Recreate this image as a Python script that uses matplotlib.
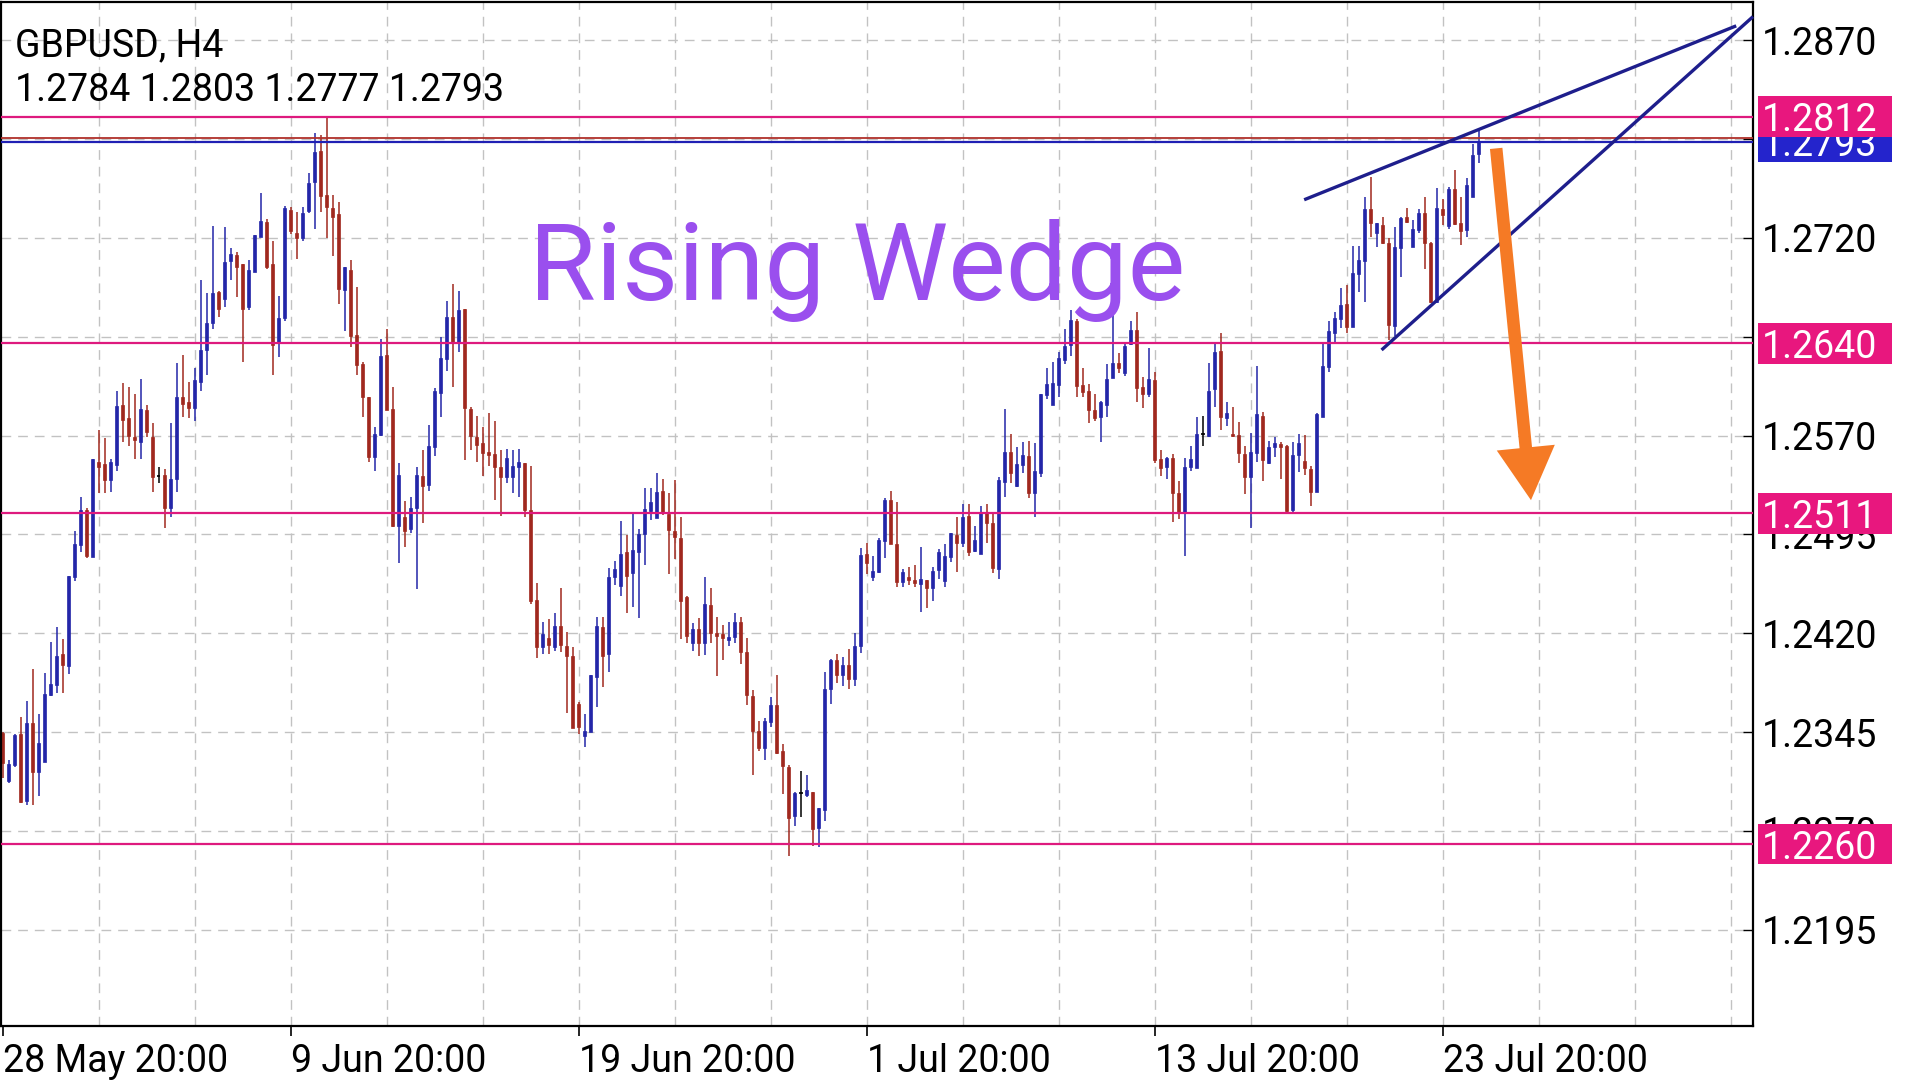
import matplotlib
matplotlib.use('Agg')
import matplotlib.pyplot as plt
import matplotlib.transforms as mtransforms
from matplotlib.patches import Rectangle

# GBPUSD H4 candles, bar 0 = 28 May 20:00
opens = [
    1.2344, 1.23081, 1.23200, 1.23435, 1.22929, 1.23521, 1.23149, 1.23225, 1.23731, 1.23807,
    1.24042, 1.23954, 1.24624, 1.24870, 1.25135, 1.24781, 1.25500, 1.25485, 1.25363, 1.25477,
    1.25935, 1.25836, 1.25692, 1.25654, 1.25894, 1.25692, 1.25393, 1.25398, 1.25148, 1.25368,
    1.25991, 1.25953, 1.25907, 1.26110, 1.26350, 1.26552, 1.26793, 1.26737, 1.27028, 1.27071,
    1.27003, 1.26679, 1.26945, 1.27205, 1.27324, 1.27003, 1.26406, 1.26590, 1.27413, 1.27235,
    1.27198, 1.27408, 1.27628, 1.27863, 1.27527, 1.27425, 1.27382, 1.26806, 1.26957, 1.26464,
    1.26244, 1.25991, 1.25541, 1.25705, 1.26312, 1.25900, 1.25014, 1.25080, 1.24989, 1.25148,
    1.25393, 1.25325, 1.25616, 1.26026, 1.26284, 1.26603, 1.26406, 1.26659, 1.25900, 1.25687,
    1.25642, 1.25579, 1.25561, 1.25465, 1.25389, 1.25384, 1.25460, 1.25495, 1.25136, 1.24453,
    1.24093, 1.24162, 1.24098, 1.24255, 1.24103, 1.24027, 1.23663, 1.23423, 1.23453, 1.23871,
    1.24250, 1.24043, 1.24630, 1.24559, 1.24817, 1.24655, 1.24819, 1.24954, 1.25131, 1.25073,
    1.25282, 1.25105, 1.24979, 1.24921, 1.24473, 1.24124, 1.24230, 1.24124, 1.24415, 1.24205,
    1.24195, 1.24149, 1.24169, 1.24283, 1.24055, 1.23724, 1.23461, 1.23327, 1.23529, 1.23656,
    1.23309, 1.23188, 1.22813, 1.22985, 1.22972, 1.22998, 1.22719, 1.22858, 1.23775, 1.2400,
    1.2388, 1.2396, 1.2385, 1.2410, 1.24802, 1.24630, 1.24668, 1.24903, 1.25212, 1.24878,
    1.24592, 1.24625, 1.24605, 1.24572, 1.24605, 1.24541, 1.24680, 1.24599, 1.24782, 1.24946,
    1.24883, 1.25090, 1.24827, 1.24802, 1.25111, 1.25040, 1.24685, 1.25351, 1.25579, 1.25318,
    1.25477, 1.25546, 1.25267, 1.25419, 1.26009, 1.25933, 1.26084, 1.26274, 1.26388, 1.26573,
    1.26084, 1.26041, 1.25895, 1.25839, 1.25933, 1.26140, 1.26249, 1.26178, 1.26396, 1.26502,
    1.26072, 1.26016, 1.26122, 1.25520, 1.25460, 1.25528, 1.25262, 1.25115, 1.25465, 1.25452,
    1.25710, 1.25697, 1.26051, 1.26345, 1.25831, 1.25713, 1.25705, 1.25561, 1.25389, 1.25571,
    1.25849, 1.25495, 1.25611, 1.25637, 1.25621, 1.25136, 1.25553, 1.25510, 1.25444, 1.25275,
    1.25844, 1.26224, 1.26482, 1.26583, 1.26699, 1.26527, 1.26927, 1.27028, 1.27418, 1.27235,
    1.27299, 1.27165, 1.26532, 1.27122, 1.27357, 1.27134, 1.27261, 1.27387, 1.27165, 1.26717,
    1.27418, 1.27291, 1.27570, 1.27311, 1.27261, 1.27514, 1.2784]
highs = [
    1.2345, 1.23238, 1.23436, 1.23567, 1.23688, 1.23929, 1.23587, 1.23901, 1.24136, 1.24250,
    1.24156, 1.24634, 1.24978, 1.25237, 1.25148, 1.25520, 1.25743, 1.25679, 1.25520, 1.26041,
    1.26102, 1.26066, 1.26016, 1.26127, 1.25932, 1.25798, 1.25459, 1.25449, 1.25798, 1.26249,
    1.26312, 1.26110, 1.26211, 1.26881, 1.26785, 1.27291, 1.26800, 1.27286, 1.27127, 1.27091,
    1.27003, 1.27033, 1.27223, 1.27544, 1.27342, 1.27177, 1.26760, 1.27443, 1.27433, 1.27395,
    1.27438, 1.27691, 1.27995, 1.27982, 1.28116, 1.27527, 1.27476, 1.26983, 1.27033, 1.26826,
    1.26262, 1.25996, 1.25768, 1.26431, 1.26507, 1.26072, 1.25495, 1.25207, 1.25232, 1.25459,
    1.25591, 1.25781, 1.26059, 1.26451, 1.26725, 1.26851, 1.26798, 1.26664, 1.25920, 1.25849,
    1.25768, 1.25874, 1.25814, 1.25591, 1.25600, 1.25591, 1.25600, 1.25495, 1.25470, 1.24579,
    1.24283, 1.24306, 1.24351, 1.24546, 1.24212, 1.24093, 1.23681, 1.23587, 1.23881, 1.24326,
    1.24326, 1.24693, 1.24751, 1.25055, 1.24946, 1.25110, 1.24989, 1.25305, 1.25300, 1.25419,
    1.25368, 1.25262, 1.25363, 1.25080, 1.24483, 1.24276, 1.24313, 1.24625, 1.24541, 1.24326,
    1.24263, 1.24283, 1.24351, 1.24326, 1.24167, 1.23770, 1.23537, 1.23554, 1.23719, 1.23883,
    1.23360, 1.23200, 1.22998, 1.23157, 1.23124, 1.22998, 1.22871, 1.23906, 1.24002, 1.2404,
    1.2402, 1.2408, 1.2420, 1.24845, 1.24883, 1.24787, 1.24921, 1.25224, 1.25280, 1.25194,
    1.24685, 1.24701, 1.24718, 1.24857, 1.24605, 1.24706, 1.24837, 1.24878, 1.24964, 1.25085,
    1.25181, 1.25181, 1.25015, 1.25166, 1.25181, 1.25110, 1.25389, 1.25900, 1.25713, 1.25616,
    1.25649, 1.25659, 1.25642, 1.26016, 1.26211, 1.26261, 1.26337, 1.26507, 1.26654, 1.26583,
    1.26211, 1.26092, 1.26016, 1.25966, 1.26244, 1.26623, 1.26330, 1.26401, 1.26573, 1.26641,
    1.26148, 1.26363, 1.26186, 1.25591, 1.25536, 1.25561, 1.25358, 1.25528, 1.25621, 1.25839,
    1.25849, 1.26254, 1.26401, 1.26482, 1.25958, 1.25915, 1.25806, 1.25621, 1.25723, 1.26229,
    1.25882, 1.25662, 1.25692, 1.25654, 1.25629, 1.25654, 1.25713, 1.25705, 1.25470, 1.25874,
    1.26406, 1.26573, 1.26641, 1.26818, 1.26844, 1.27140, 1.27140, 1.27509, 1.27666, 1.27316,
    1.27357, 1.27198, 1.27286, 1.27357, 1.27425, 1.27337, 1.27418, 1.27509, 1.27172, 1.27577,
    1.27494, 1.27585, 1.27716, 1.27509, 1.27653, 1.27914, 1.2803]
lows = [
    1.23099, 1.23066, 1.23187, 1.22909, 1.22896, 1.22896, 1.22965, 1.23225, 1.23724, 1.23749,
    1.23744, 1.23888, 1.24599, 1.24819, 1.24769, 1.24781, 1.25262, 1.25267, 1.25275, 1.25434,
    1.25654, 1.25621, 1.25520, 1.25520, 1.25692, 1.25275, 1.25338, 1.24996, 1.25080, 1.25275,
    1.25839, 1.25831, 1.25814, 1.26041, 1.26160, 1.26507, 1.26598, 1.26674, 1.26881, 1.26750,
    1.26261, 1.26654, 1.26945, 1.27205, 1.26962, 1.26160, 1.26294, 1.26573, 1.27230, 1.27041,
    1.27180, 1.27387, 1.27266, 1.27400, 1.27198, 1.27066, 1.26699, 1.26497, 1.26370, 1.26160,
    1.25844, 1.25503, 1.25434, 1.25697, 1.25895, 1.25009, 1.24731, 1.24852, 1.24959, 1.24534,
    1.25040, 1.25282, 1.25546, 1.25844, 1.26193, 1.26072, 1.26338, 1.25515, 1.25591, 1.25503,
    1.25394, 1.25470, 1.25212, 1.25090, 1.25343, 1.25267, 1.25237, 1.25085, 1.24422, 1.24010,
    1.24043, 1.24043, 1.24068, 1.24060, 1.23597, 1.23478, 1.23435, 1.23339, 1.23453, 1.23638,
    1.23790, 1.23909, 1.24566, 1.24483, 1.24351, 1.24397, 1.24313, 1.24718, 1.25060, 1.25073,
    1.25098, 1.24650, 1.24761, 1.24154, 1.24129, 1.24068, 1.24028, 1.24035, 1.24129, 1.23876,
    1.23997, 1.24104, 1.24129, 1.23967, 1.23656, 1.23124, 1.23309, 1.23238, 1.23486, 1.23284,
    1.22980, 1.22510, 1.22737, 1.22808, 1.22955, 1.22586, 1.22575, 1.22778, 1.23663, 1.2382,
    1.2380, 1.2378, 1.2380, 1.2405, 1.24650, 1.24599, 1.24660, 1.24769, 1.24875, 1.24549,
    1.24554, 1.24567, 1.24554, 1.24364, 1.24389, 1.24448, 1.24610, 1.24554, 1.24744, 1.24668,
    1.24852, 1.24787, 1.24820, 1.24802, 1.24888, 1.24660, 1.24610, 1.25232, 1.25343, 1.25313,
    1.25419, 1.25224, 1.25080, 1.25389, 1.25976, 1.25933, 1.25996, 1.26244, 1.26305, 1.25991,
    1.25996, 1.25798, 1.25814, 1.25654, 1.25839, 1.26135, 1.26178, 1.26153, 1.26388, 1.25958,
    1.25907, 1.25996, 1.25490, 1.25394, 1.25368, 1.25047, 1.25065, 1.24787, 1.25434, 1.25452,
    1.25621, 1.25692, 1.25915, 1.25743, 1.25773, 1.25692, 1.25490, 1.25257, 1.24996, 1.25502,
    1.25358, 1.25485, 1.25536, 1.25368, 1.25115, 1.25123, 1.25427, 1.25401, 1.25166, 1.25275,
    1.25844, 1.26186, 1.26413, 1.26514, 1.26482, 1.26527, 1.26793, 1.26717, 1.27210, 1.27129,
    1.27155, 1.26426, 1.26456, 1.26907, 1.27317, 1.27129, 1.27241, 1.26962, 1.26709, 1.26709,
    1.27299, 1.27266, 1.27299, 1.27147, 1.27205, 1.27509, 1.2777]
closes = [
    1.23213, 1.23205, 1.23428, 1.22919, 1.23521, 1.23149, 1.23364, 1.23739, 1.23815, 1.24027,
    1.23959, 1.24634, 1.24877, 1.25135, 1.24786, 1.25520, 1.25464, 1.25363, 1.25502, 1.25925,
    1.25818, 1.25697, 1.25667, 1.25899, 1.25727, 1.25388, 1.25393, 1.25148, 1.25368, 1.25991,
    1.25940, 1.25907, 1.26122, 1.26350, 1.26552, 1.26785, 1.26659, 1.27015, 1.27079, 1.26983,
    1.26661, 1.26957, 1.27223, 1.27332, 1.26983, 1.26388, 1.26590, 1.27425, 1.27256, 1.27198,
    1.27393, 1.27615, 1.27855, 1.27519, 1.27438, 1.27362, 1.26811, 1.26978, 1.26456, 1.26236,
    1.25996, 1.25541, 1.25713, 1.26305, 1.25895, 1.25014, 1.25401, 1.24979, 1.25148, 1.25401,
    1.25318, 1.25621, 1.26039, 1.26292, 1.26603, 1.26406, 1.26654, 1.25907, 1.25697, 1.25629,
    1.25571, 1.25553, 1.25460, 1.25389, 1.25528, 1.25470, 1.25497, 1.25136, 1.24448, 1.24098,
    1.24195, 1.24111, 1.24255, 1.24111, 1.24027, 1.23478, 1.23491, 1.23458, 1.23881, 1.24255,
    1.24027, 1.24625, 1.24685, 1.24802, 1.24635, 1.24832, 1.24954, 1.25141, 1.25199, 1.25275,
    1.25110, 1.24984, 1.24928, 1.24448, 1.24182, 1.24230, 1.24124, 1.24422, 1.24200, 1.24179,
    1.24167, 1.24174, 1.24283, 1.24060, 1.23732, 1.23461, 1.23327, 1.23537, 1.23656, 1.23289,
    1.23193, 1.22796, 1.22985, 1.22985, 1.23011, 1.22712, 1.22871, 1.23775, 1.23997, 1.2388,
    1.2396, 1.2385, 1.2410, 1.24794, 1.24731, 1.24675, 1.24908, 1.25212, 1.24875, 1.24592,
    1.24668, 1.24605, 1.24579, 1.24610, 1.24541, 1.24675, 1.24820, 1.24787, 1.24959, 1.24888,
    1.25085, 1.24820, 1.24908, 1.25116, 1.25040, 1.24693, 1.25363, 1.25579, 1.25414, 1.25485,
    1.25553, 1.25262, 1.25432, 1.26016, 1.26092, 1.26097, 1.26287, 1.26380, 1.26578, 1.26077,
    1.26034, 1.25895, 1.25831, 1.25958, 1.26133, 1.26249, 1.26211, 1.26380, 1.26502, 1.26059,
    1.26016, 1.26127, 1.25515, 1.25452, 1.25528, 1.25262, 1.25115, 1.25460, 1.25520, 1.25713,
    1.25710, 1.26041, 1.26337, 1.25839, 1.25874, 1.25697, 1.25571, 1.25389, 1.25578, 1.25864,
    1.25515, 1.25611, 1.25642, 1.25611, 1.25131, 1.25553, 1.25647, 1.25452, 1.25275, 1.25864,
    1.26229, 1.26497, 1.26590, 1.26692, 1.26527, 1.26937, 1.27033, 1.27418, 1.27311, 1.27311,
    1.27165, 1.26540, 1.27134, 1.27349, 1.27324, 1.27266, 1.27387, 1.27165, 1.26717, 1.27425,
    1.27375, 1.27570, 1.27307, 1.27256, 1.27602, 1.27830, 1.2793]

price_ticks = [1.2870, 1.2795, 1.2720, 1.2645, 1.2570, 1.2495, 1.2420, 1.2345, 1.2270, 1.2195]
level_prices = [1.2812, 1.2640, 1.2511, 1.2260]
bid_price = 1.2793
ask_price = 1.2796
date_ticks = [0, 48, 96, 144, 192, 240]
date_labels = ['28 May 20:00', '9 Jun 20:00', '19 Jun 20:00', '1 Jul 20:00', '13 Jul 20:00', '23 Jul 20:00']
ohlc_header = '1.2784 1.2803 1.2777 1.2793'

# wedge trend lines (bar, price) and the projected move arrow
wedge_upper = [(216.9, 1.2749), (288.9, 1.2881)]
wedge_lower = [(229.8, 1.2635), (291.7, 1.2888)]
arrow_start = (248.9, 1.2788)
arrow_end = (254.7, 1.2521)

BULL = '#2326A8'
BEAR = '#A0281E'
PINK = '#DE1A7E'


def main():
    plt.rcParams['font.family'] = ['Roboto', 'DejaVu Sans']

    fig = plt.figure(figsize=(19.2, 10.8), dpi=100)
    ax = fig.add_axes([1 / 1920, 54 / 1080, 1752 / 1920, 1024 / 1080])

    # dashed grid
    for gx in range(16, 292, 16):
        ax.axvline(gx, color='#C2C2C2', lw=1.0, ls=(0, (7, 5)), zorder=0.5)
    for gy in price_ticks:
        ax.axhline(gy, color='#C2C2C2', lw=1.0, ls=(0, (7, 5)), zorder=0.5)

    # candles
    for i in range(len(closes)):
        o, h, l, c = opens[i], highs[i], lows[i], closes[i]
        if c > o:
            col = BULL
        elif c < o:
            col = BEAR
        else:
            col = 'black'
        ax.vlines(i, l, h, color=col, lw=1.1, zorder=2)
        if c == o:
            ax.hlines(c, i - 0.3, i + 0.3, color=col, lw=1.2, zorder=2)
        else:
            ax.bar(i, abs(c - o), bottom=min(o, c), width=0.5, color=col, edgecolor=col, lw=0.5, zorder=2.1)

    # horizontal levels
    for lv in level_prices:
        ax.axhline(lv, color=PINK, lw=1.6, zorder=3.5)
    ax.axhline(ask_price, color='#B0302A', lw=1.3, zorder=3.4)
    ax.axhline(bid_price, color='#2020B4', lw=1.6, zorder=3.4)

    # wedge
    ax.plot([p[0] for p in wedge_upper], [p[1] for p in wedge_upper], color='#1E1E8C', lw=2.4, zorder=4,
            solid_capstyle='butt', clip_on=False)
    ax.plot([p[0] for p in wedge_lower], [p[1] for p in wedge_lower], color='#1E1E8C', lw=2.4, zorder=4,
            solid_capstyle='butt', clip_on=False)

    ax.annotate('', xy=arrow_end, xytext=arrow_start,
                arrowprops=dict(arrowstyle='simple,head_length=3.8,head_width=4.2,tail_width=0.9',
                                mutation_scale=10, fc='#F57A25', ec='none', shrinkA=0, shrinkB=0),
                zorder=5)

    ax.set_xlim(-0.28, 291.7)
    ax.set_ylim(1.21219, 1.28991)

    # axes styling
    for sp in ax.spines.values():
        sp.set_color('black')
        sp.set_linewidth(1.6)
    ax.yaxis.tick_right()
    ax.set_yticks(price_ticks)
    ax.set_yticklabels(['%.4f' % p for p in price_ticks])
    ax.tick_params(axis='y', direction='in', length=7, width=1, pad=6, labelsize=27, colors='black')
    ax.set_xticks(date_ticks)
    ax.set_xticklabels(date_labels)
    ax.tick_params(axis='x', direction='out', length=7, width=1.2, pad=5, labelsize=27, colors='black')
    for lbl in ax.get_xticklabels():
        lbl.set_horizontalalignment('left')

    # price tags on the right scale
    trans = mtransforms.blended_transform_factory(ax.transAxes, ax.transData)
    tag_h = 0.0031
    ax.add_patch(Rectangle((1.0029, bid_price - tag_h / 2), 0.0764, tag_h, transform=trans,
                           facecolor='#2424CC', edgecolor='none', clip_on=False, zorder=6))
    ax.text(1.0051, bid_price, '%.4f' % bid_price, transform=trans, color='white', fontsize=27,
            ha='left', va='center_baseline', zorder=6.5, clip_on=False)
    for lv in level_prices:
        ax.add_patch(Rectangle((1.0029, lv - tag_h / 2), 0.0764, tag_h, transform=trans,
                               facecolor='#E8177E', edgecolor='none', clip_on=False, zorder=7))
        ax.text(1.0051, lv, '%.4f' % lv, transform=trans, color='white', fontsize=27,
                ha='left', va='center_baseline', zorder=7.5, clip_on=False)

    # titles
    fig.text(15 / 1920, 1 - 56 / 1080, 'GBPUSD, H4', fontsize=27, color='black', ha='left', va='baseline')
    fig.text(15 / 1920, 1 - 101 / 1080, ohlc_header, fontsize=27, color='black', ha='left', va='baseline')
    fig.text(857 / 1920, 1 - 300 / 1080, 'Rising Wedge', fontsize=78, color='#9A4FEE', ha='center',
             va='baseline')

    plt.savefig('out.png', dpi=100)


if __name__ == '__main__':
    main()
